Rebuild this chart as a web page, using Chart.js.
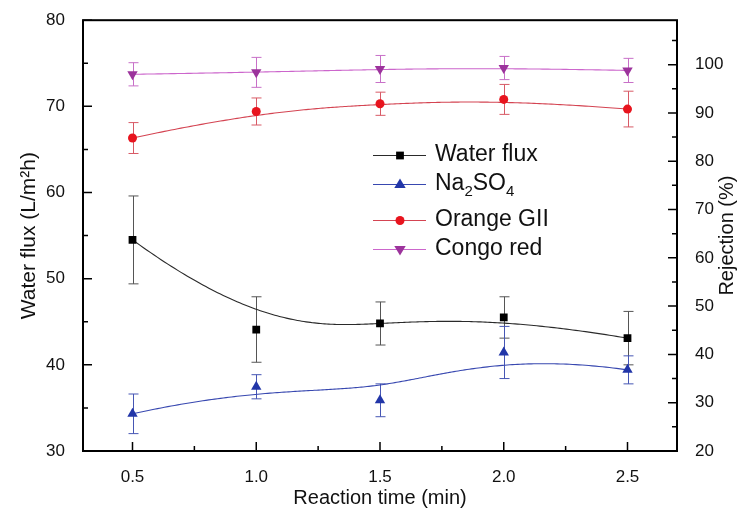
<!DOCTYPE html>
<html lang="en">
<head>
    <meta charset="UTF-8">
    <title>Water flux and rejection vs reaction time</title>
    <script src="https://cdn.jsdelivr.net/npm/chart.js"></script>
    <style>
        body { margin: 0; padding: 0; background: #fff; }
        #wrap { width: 745px; height: 515px; }
    </style>
</head>
<body>
    <div id="wrap"><canvas id="fluxChart" width="745" height="515"></canvas></div>

    <script>
        // data
        const times = [0.5, 1.0, 1.5, 2.0, 2.5];
        const waterFlux = [54.5, 44.1, 44.8, 45.5, 43.1];
        const waterFluxErr = [5.1, 3.8, 2.5, 2.4, 3.1];
        const na2so4 = [27.7, 33.3, 30.5, 40.4, 36.8];
        const na2so4Err = [4.1, 2.5, 3.4, 5.4, 2.9];
        const orangeGII = [84.8, 90.3, 91.9, 92.8, 90.8];
        const orangeGIIErr = [3.2, 2.8, 2.4, 3.1, 3.7];
        const congoRed = [98.0, 98.4, 99.1, 99.3, 98.8];
        const congoRedErr = [2.4, 3.1, 2.8, 2.4, 2.5];

        // axis ticks
        const xTicks = [0.5, 1.0, 1.5, 2.0, 2.5];
        const fluxTicks = [30, 40, 50, 60, 70, 80];
        const rejTicks = [20, 30, 40, 50, 60, 70, 80, 90, 100];

        const FONT = "'Liberation Sans', Arial, sans-serif";

        // series look: marker colour, line colour, error bar colour
        const series = [
            { label: 'Water flux', values: waterFlux, err: waterFluxErr, axis: 'y',
              marker: '#000000', line: '#2a2a2a', bar: '#555555', style: 'rect', radius: 5.5, rot: 0 },
            { label: 'Na2SO4', values: na2so4, err: na2so4Err, axis: 'y1',
              marker: '#2236a8', line: '#3848b0', bar: '#4656b4', style: 'triangle', radius: 6, rot: 0 },
            { label: 'Orange GII', values: orangeGII, err: orangeGIIErr, axis: 'y1',
              marker: '#e8141e', line: '#d44452', bar: '#d85a66', style: 'circle', radius: 4.5, rot: 0 },
            { label: 'Congo red', values: congoRed, err: congoRedErr, axis: 'y1',
              marker: '#9c339c', line: '#cc66cc', bar: '#c870c8', style: 'triangle', radius: 6, rot: 180 }
        ];

        // clamped cubic B-spline using the points as control points (like Origin's B-spline connect)
        function bspline(pts, steps) {
            const n = pts.length;
            const k = Math.min(3, n - 1);
            const knots = [];
            for (let i = 0; i <= k; i++) knots.push(0);
            for (let i = 1; i < n - k; i++) knots.push(i);
            for (let i = 0; i <= k; i++) knots.push(n - k);
            const umax = n - k;
            const out = [];
            for (let t = 0; t <= steps; t++) {
                const u = umax * t / steps;
                let s = k;
                while (s < n - 1 && u >= knots[s + 1]) s++;
                const d = [];
                for (let j = 0; j <= k; j++) d.push({ x: pts[j + s - k].x, y: pts[j + s - k].y });
                for (let r = 1; r <= k; r++) {
                    for (let j = k; j >= r; j--) {
                        const i = j + s - k;
                        const a = (u - knots[i]) / (knots[i + 1 + k - r] - knots[i]);
                        d[j] = { x: (1 - a) * d[j - 1].x + a * d[j].x, y: (1 - a) * d[j - 1].y + a * d[j].y };
                    }
                }
                out.push(d[k]);
            }
            return out;
        }

        function drawMarker(ctx, s, x, y) {
            ctx.save();
            ctx.fillStyle = s.marker;
            ctx.beginPath();
            if (s.style === 'rect') {
                const h = s.radius * Math.SQRT1_2;
                ctx.rect(x - h, y - h, 2 * h, 2 * h);
            } else if (s.style === 'circle') {
                ctx.arc(x, y, s.radius, 0, Math.PI * 2);
            } else {
                const r = s.radius;
                const dir = s.rot === 180 ? -1 : 1;
                ctx.moveTo(x, y - dir * r);
                ctx.lineTo(x + r * 0.95, y + dir * r * 0.6);
                ctx.lineTo(x - r * 0.95, y + dir * r * 0.6);
                ctx.closePath();
            }
            ctx.fill();
            ctx.restore();
        }

        const decorPlugin = {
            id: 'decor',
            beforeDatasetsDraw(chart) {
                const ctx = chart.ctx;
                const area = chart.chartArea;
                const xs = chart.scales.x;
                ctx.save();
                ctx.beginPath();
                ctx.rect(area.left, area.top, area.right - area.left, area.bottom - area.top);
                ctx.clip();
                series.forEach((s, di) => {
                    const ys = chart.scales[s.axis];
                    // error bars
                    ctx.strokeStyle = s.bar;
                    ctx.lineWidth = 1;
                    s.values.forEach((v, i) => {
                        const px = Math.round(xs.getPixelForValue(times[i])) + 0.5;
                        const top = ys.getPixelForValue(v + s.err[i]);
                        const bot = ys.getPixelForValue(v - s.err[i]);
                        ctx.beginPath();
                        ctx.moveTo(px, top); ctx.lineTo(px, bot);
                        ctx.moveTo(px - 5, top); ctx.lineTo(px + 5, top);
                        ctx.moveTo(px - 5, bot); ctx.lineTo(px + 5, bot);
                        ctx.stroke();
                    });
                    // smooth connecting curve
                    const meta = chart.getDatasetMeta(di);
                    const pts = meta.data.map(p => ({ x: p.x, y: p.y }));
                    const curve = bspline(pts, 200);
                    ctx.strokeStyle = s.line;
                    ctx.lineWidth = 1.1;
                    ctx.beginPath();
                    curve.forEach((p, i) => i ? ctx.lineTo(p.x, p.y) : ctx.moveTo(p.x, p.y));
                    ctx.stroke();
                });
                ctx.restore();
            },
            afterDraw(chart) {
                const ctx = chart.ctx;
                const a = chart.chartArea;
                const xs = chart.scales.x, yl = chart.scales.y, yr = chart.scales.y1;
                ctx.save();
                // frame
                ctx.strokeStyle = '#000';
                ctx.lineWidth = 2;
                ctx.strokeRect(a.left, a.top, a.right - a.left, a.bottom - a.top);
                // inward ticks
                ctx.lineWidth = 1.5;
                ctx.beginPath();
                for (let v = 0.5; v <= 2.5001; v += 0.25) {
                    const px = xs.getPixelForValue(v);
                    const len = Math.abs(v * 2 - Math.round(v * 2)) < 1e-6 ? 9 : 5;
                    ctx.moveTo(px, a.bottom); ctx.lineTo(px, a.bottom - len);
                }
                for (let v = 30; v <= 80; v += 5) {
                    const py = yl.getPixelForValue(v);
                    const len = v % 10 === 0 ? 9 : 5;
                    ctx.moveTo(a.left, py); ctx.lineTo(a.left + len, py);
                }
                for (let v = 20; v <= 105; v += 5) {
                    const py = yr.getPixelForValue(v);
                    const len = v % 10 === 0 ? 9 : 5;
                    ctx.moveTo(a.right, py); ctx.lineTo(a.right - len, py);
                }
                ctx.stroke();

                // axis titles
                ctx.fillStyle = '#111';
                ctx.font = '20px ' + FONT;
                ctx.textAlign = 'center';
                ctx.textBaseline = 'middle';
                ctx.fillText('Reaction time (min)', (a.left + a.right) / 2, 498);
                const midY = (a.top + a.bottom) / 2;
                ctx.save();
                ctx.translate(727, midY);
                ctx.rotate(-Math.PI / 2);
                ctx.fillText('Rejection (%)', 0, 0);
                ctx.restore();
                ctx.save();
                ctx.font = '21px ' + FONT;
                ctx.translate(29, midY);
                ctx.rotate(-Math.PI / 2);
                ctx.fillText('Water flux (L/m\u00B2h)', 0, 0);
                ctx.restore();

                // legend inside the plot
                const rows = [155, 184, 220, 249];
                ctx.textAlign = 'left';
                series.forEach((s, i) => {
                    const y = rows[i];
                    ctx.strokeStyle = s.line;
                    ctx.lineWidth = 1.1;
                    ctx.beginPath();
                    ctx.moveTo(373, y + 0.5); ctx.lineTo(426, y + 0.5);
                    ctx.stroke();
                    drawMarker(ctx, s, 400, y + 0.5);
                    ctx.fillStyle = '#111';
                    ctx.font = '23px ' + FONT;
                    if (s.label === 'Na2SO4') {
                        let x = 435;
                        const parts = [['Na', false], ['2', true], ['SO', false], ['4', true]];
                        parts.forEach(([t, sub]) => {
                            ctx.font = (sub ? '15px ' : '23px ') + FONT;
                            ctx.fillText(t, x, sub ? y + 8 : y);
                            x += ctx.measureText(t).width;
                        });
                    } else {
                        ctx.fillText(s.label, 435, y);
                    }
                });
                ctx.restore();
            }
        };

        const ctx = document.getElementById('fluxChart').getContext('2d');

        const chart = new Chart(ctx, {
            type: 'line',
            data: {
                datasets: series.map(s => ({
                    label: s.label,
                    data: times.map((t, i) => ({ x: t, y: s.values[i] })),
                    yAxisID: s.axis,
                    showLine: false,
                    pointStyle: s.style,
                    pointRadius: s.radius,
                    pointRotation: s.rot,
                    pointBackgroundColor: s.marker,
                    pointBorderColor: s.marker,
                    pointBorderWidth: 0,
                    borderColor: s.line
                }))
            },
            options: {
                responsive: false,
                animation: false,
                layout: { padding: { top: 16, left: 0, right: 0, bottom: 0 } },
                plugins: {
                    legend: { display: false },
                    tooltip: { enabled: false }
                },
                scales: {
                    x: {
                        type: 'linear',
                        min: 0.3,
                        max: 2.7,
                        grid: { display: false },
                        border: { display: false },
                        afterBuildTicks: sc => { sc.ticks = xTicks.map(v => ({ value: v })); },
                        afterFit: sc => { sc.height = 64; },
                        ticks: {
                            padding: 8,
                            color: '#111',
                            font: { family: FONT, size: 17 },
                            callback: v => v.toFixed(1)
                        }
                    },
                    y: {
                        position: 'left',
                        min: 30,
                        max: 80,
                        grid: { display: false },
                        border: { display: false },
                        afterBuildTicks: sc => { sc.ticks = fluxTicks.map(v => ({ value: v })); },
                        afterFit: sc => { sc.width = 83; },
                        ticks: {
                            padding: 10,
                            color: '#111',
                            font: { family: FONT, size: 17 }
                        }
                    },
                    y1: {
                        position: 'right',
                        min: 20,
                        max: 109.2,
                        grid: { display: false },
                        border: { display: false },
                        afterBuildTicks: sc => { sc.ticks = rejTicks.map(v => ({ value: v })); },
                        afterFit: sc => { sc.width = 68; },
                        ticks: {
                            padding: 10,
                            color: '#111',
                            font: { family: FONT, size: 17 }
                        }
                    }
                }
            },
            plugins: [decorPlugin]
        });
    </script>
</body>
</html>
